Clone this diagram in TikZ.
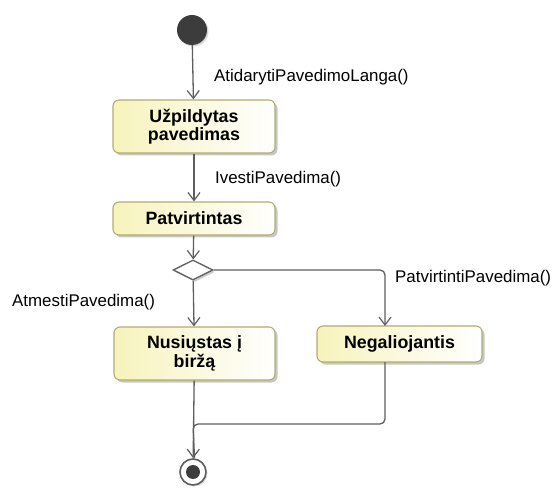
\documentclass[tikz,border=0pt]{standalone}
\usepackage{fontspec}
\setmainfont{Liberation Sans}
\usetikzlibrary{arrows.meta,shapes.geometric,shadows}

\definecolor{linegrey}{HTML}{5E5E5E}
\definecolor{boxedge}{HTML}{B2AC6E}
\definecolor{boxfill}{HTML}{F7F3BC}
\definecolor{dotfill}{HTML}{3C3C3C}

\tikzset{
  state/.style={draw=boxedge,line width=1.1pt,rounded corners=6pt,left color=boxfill,right color=white,
    inner sep=0pt,align=center,font=\bfseries\fontsize{17.8}{18.5}\selectfont,
    drop shadow={shadow xshift=2.5pt,shadow yshift=-2.5pt,fill=black!40,opacity=.55}},
  flow/.style={draw=linegrey,line width=1.3pt,-{Straight Barb[length=8pt,width=12pt,line width=1.2pt]}},
  line/.style={draw=linegrey,line width=1.3pt,rounded corners=5pt},
  trig/.style={font=\fontsize{16.9}{19}\selectfont,anchor=west,inner sep=0pt}
}

\begin{document}
\begin{tikzpicture}[x=1pt,y=-1pt]
  \useasboundingbox (0,0) rectangle (552,489);

  % start and states
  \node[circle,fill=dotfill,minimum size=30pt,inner sep=0pt,
    drop shadow={shadow xshift=1.5pt,shadow yshift=-1.5pt,fill=black!30,opacity=.5}] (init) at (192,30) {};

  \node[state,minimum width=162pt,minimum height=53pt] (uzp) at (194,126.5) {Užpildytas\\pavedimas};

  \node[state,minimum width=162pt,minimum height=33pt] (patv) at (194,218.5) {Patvirtintas};

  \node[diamond,draw=linegrey,fill=white,line width=1.3pt,minimum width=40pt,minimum height=20pt,inner sep=0pt,
    drop shadow={shadow xshift=2pt,shadow yshift=-2pt,fill=black!40,opacity=.5}] (choice) at (193,270) {};

  \node[state,minimum width=161pt,minimum height=53pt] (nus) at (194.5,353.5) {Nusiųstas į\\biržą};

  \node[state,minimum width=165pt,minimum height=36pt] (neg) at (399.5,344) {Negaliojantis};

  \node[circle,draw=linegrey,line width=1.6pt,fill=white,minimum size=26pt,inner sep=0pt,
    drop shadow={shadow xshift=1.5pt,shadow yshift=-1.5pt,fill=black!30,opacity=.5},
    path picture={\fill[dotfill] (path picture bounding box.center) circle (7pt);}] (fin) at (193,472) {};

  \coordinate (negin) at (385,326);
  \coordinate (negout) at (385,362);
  \coordinate (merge) at (193,424);

  % transitions
  \draw[flow] (init) -- (uzp);
  \node[trig] (t1) at (214,77) {AtidarytiPavedimoLanga()};

  \draw[flow] (uzp) -- (patv);
  \node[trig] (t2) at (215,179) {IvestiPavedima()};

  \draw[flow] (patv) -- (choice);

  \draw[flow] (choice) -- (nus);
  \node[trig] (t3) at (12,302) {AtmestiPavedima()};

  \draw[flow,rounded corners=5pt] (choice.east) -| (negin);
  \node[trig] (t4) at (395,278) {PatvirtintiPavedima()};

  % both ends meet before the final node
  \draw[flow] (nus) -- (fin);
  \draw[line] (negout) |- (merge) -- (nus.south |- fin.north);

\end{tikzpicture}
\end{document}
